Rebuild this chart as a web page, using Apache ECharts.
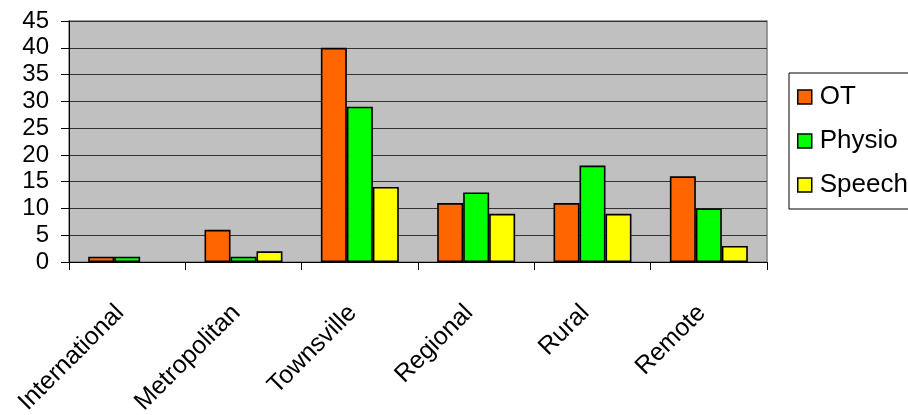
<!DOCTYPE html>
<html>
<head>
<meta charset="utf-8">
<script src="https://cdn.jsdelivr.net/npm/echarts@6/dist/echarts.min.js"></script>
<style>
  html, body { margin: 0; padding: 0; background: #fff; }
  #chart { width: 908px; height: 415px; }
</style>
</head>
<body>
<div id="chart"></div>
<script>
// data
const categories = ['International', 'Metropolitan', 'Townsville', 'Regional', 'Rural', 'Remote'];
const otValues = [1, 6, 40, 11, 11, 16];
const physioValues = [1, 1, 29, 13, 18, 10];
const speechValues = [0, 2, 14, 9, 9, 3];
const seriesNames = ['OT', 'Physio', 'Speech'];

const font = 'Liberation Sans, Arial, sans-serif';
let chart = echarts.init(document.getElementById('chart'), null, { renderer: 'canvas' });

function barSeries(name, data, color) {
  return {
    name: name,
    type: 'bar',
    // zero bars are not drawn in the original
    data: data.map(v => (v === 0 ? '-' : v)),
    barGap: '0%',
    barCategoryGap: '33%',
    itemStyle: { color: color, borderColor: '#000', borderWidth: 1.6 },
    emphasis: { disabled: true }
  };
}

let option = {
  animation: false,
  backgroundColor: '#fff',
  grid: {
    left: 69, right: 141, top: 21, bottom: 153,
    outerBoundsMode: 'none',
    show: true,
    backgroundColor: '#C0C0C0',
    borderColor: '#808080',
    borderWidth: 1.5
  },
  legend: {
    orient: 'vertical',
    left: 789,
    top: 73,
    data: seriesNames,
    icon: 'rect',
    itemWidth: 14,
    itemHeight: 14,
    itemGap: 18,
    padding: [11, 40, 11, 8],
    backgroundColor: '#fff',
    borderColor: '#000',
    borderWidth: 1,
    borderRadius: 0,
    selectedMode: false,
    itemStyle: { borderColor: '#000', borderWidth: 1.5 },
    textStyle: { fontFamily: font, fontSize: 26, color: '#000', padding: [0, 0, 0, 3] }
  },
  xAxis: {
    type: 'category',
    data: categories,
    axisLine: { lineStyle: { color: '#000', width: 1 } },
    axisTick: { show: true, length: 8, lineStyle: { color: '#000' } },
    axisLabel: {
      rotate: 45,
      margin: 40,
      padding: [0, 10, 0, 0],
      fontFamily: font,
      fontSize: 25,
      color: '#000',
      interval: 0
    }
  },
  yAxis: {
    type: 'value',
    min: 0,
    max: 45,
    interval: 5,
    axisLine: { show: true, lineStyle: { color: '#000', width: 1 } },
    axisTick: { show: true, length: 8, lineStyle: { color: '#000' } },
    axisLabel: { margin: 20, fontFamily: font, fontSize: 24, color: '#000' },
    splitLine: { show: true, lineStyle: { color: '#333', width: 1.2 } }
  },
  series: [
    barSeries(seriesNames[0], otValues, '#FF6600'),
    barSeries(seriesNames[1], physioValues, '#00FF00'),
    barSeries(seriesNames[2], speechValues, '#FFFF00')
  ]
};

chart.setOption(option);
</script>
</body>
</html>
